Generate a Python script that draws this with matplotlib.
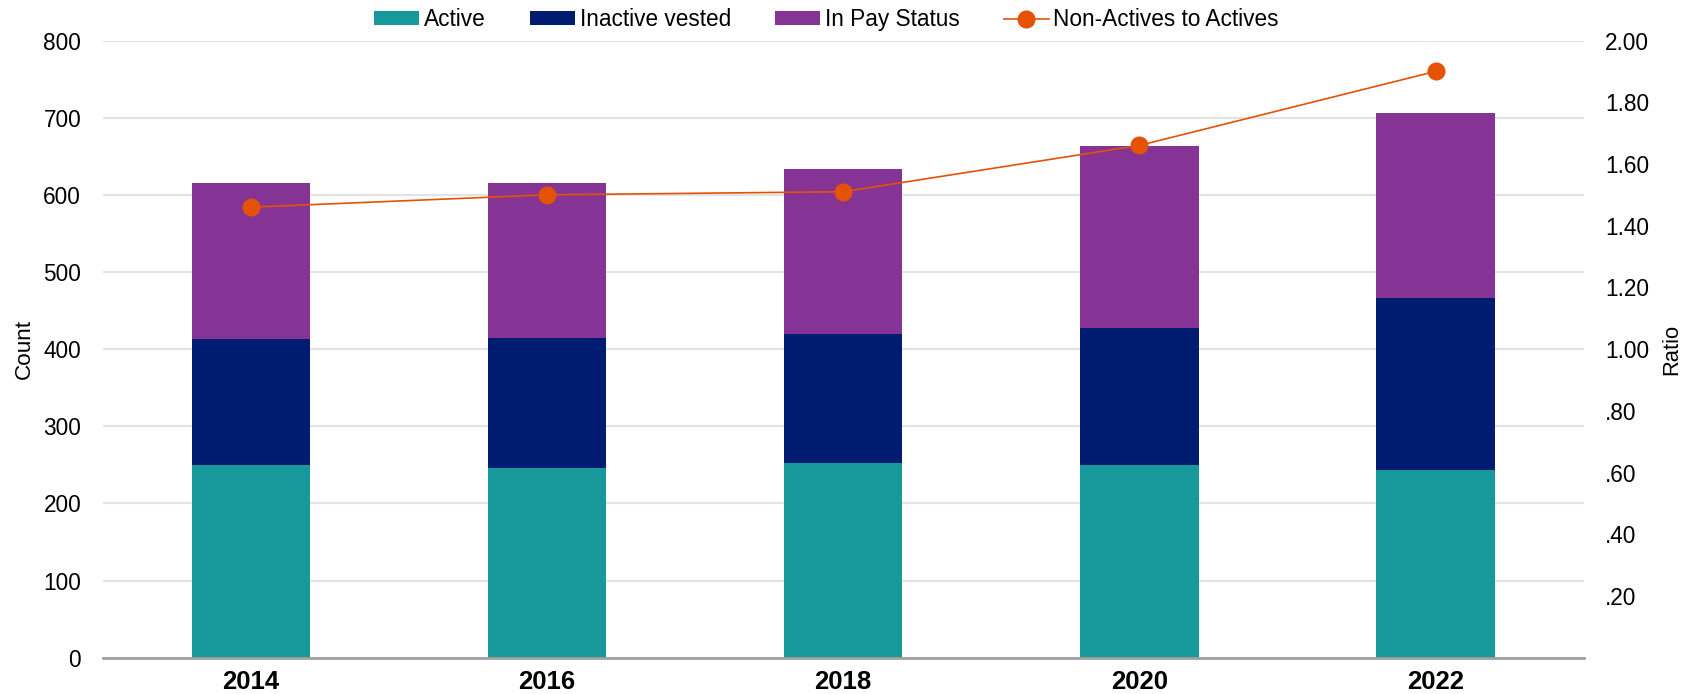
import matplotlib
matplotlib.use("Agg")
import matplotlib.pyplot as plt
from matplotlib.ticker import FuncFormatter
import numpy as np

plt.rcParams["font.family"] = ["Liberation Sans", "DejaVu Sans"]

years = ["2014", "2016", "2018", "2020", "2022"]
active = [250, 246, 253, 250, 243]
inactive_vested = [163, 168, 166, 178, 223]
in_pay_status = [202, 201, 214, 235, 240]
ratio = [1.46, 1.50, 1.51, 1.66, 1.90]

c_active = "#17989B"
c_inactive = "#001C71"
c_pay = "#853394"
c_ratio = "#E35205"

fig = plt.figure(figsize=(16.95, 6.94), dpi=100)
ax = fig.add_axes([0.0606, 0.0523, 0.8737, 0.8893])
x = np.arange(len(years))
w = 0.4

active = np.array(active)
inactive_vested = np.array(inactive_vested)
in_pay_status = np.array(in_pay_status)

ax.bar(x, active, w, color=c_active, label="Active", zorder=2)
ax.bar(x, inactive_vested, w, bottom=active, color=c_inactive, label="Inactive vested", zorder=2)
ax.bar(x, in_pay_status, w, bottom=active + inactive_vested, color=c_pay,
       label="In Pay Status", zorder=2)

ax.set_ylim(0, 800)
ax.set_xlim(-0.5, len(years) - 0.5)
ax.set_yticks(np.arange(0, 801, 100))
ax.set_xticks(x)
ax.set_xticklabels(years, fontsize=18.5, fontweight="bold")
ax.tick_params(axis="y", labelsize=16.3, length=0, pad=15.5)
ax.tick_params(axis="x", length=0, pad=9)
ax.grid(True, axis="y", color="#E3E3E3", linewidth=1.5, zorder=0)
ax.set_axisbelow(True)
for s in ["top", "right", "left"]:
    ax.spines[s].set_visible(False)
ax.spines["bottom"].set_color("#A0A0A0")
ax.spines["bottom"].set_linewidth(2)
ax.set_ylabel("Count", fontsize=16.2, labelpad=6)

ax2 = ax.twinx()
ax2.plot(x, ratio, color=c_ratio, linewidth=1.2, marker="o", markersize=12,
         label="Non-Actives to Actives", zorder=3)
ax2.set_ylim(0, 2.0)
ax2.set_yticks(np.arange(0.2, 2.01, 0.2))


def fmt(v, pos):
    s = f"{v:.2f}"
    return s[1:] if s.startswith("0") else s


ax2.yaxis.set_major_formatter(FuncFormatter(fmt))
ax2.tick_params(axis="y", labelsize=16.3, length=0, pad=15.5)
for s in ["top", "right", "left", "bottom"]:
    ax2.spines[s].set_visible(False)
ax2.set_ylabel("Ratio", fontsize=15.8, labelpad=8.5)

h1, l1 = ax.get_legend_handles_labels()
h2, l2 = ax2.get_legend_handles_labels()
fig.legend(h1 + h2, l1 + l2, loc="center", bbox_to_anchor=(0.4876, 0.972), ncol=4,
           frameon=False, fontsize=16.3, handlelength=2.0, handleheight=0.53,
           handletextpad=0.2, columnspacing=1.95, borderpad=0)

fig.savefig("out.png", dpi=100)
